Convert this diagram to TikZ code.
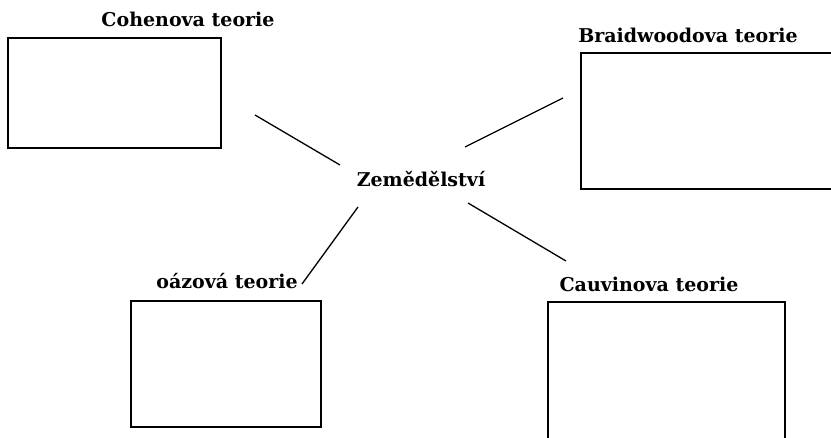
\documentclass[tikz,border=0pt]{standalone}
\usepackage{fontspec}
\setmainfont{DejaVu Serif}
\tikzset{
  mapsec/.style={x=1pt,y=-1pt,font=\bfseries\fontsize{19}{22}\selectfont},
  theorybox/.style={draw,line width=1.8pt,inner sep=0pt,outer sep=0pt},
  theorylabel/.style={anchor=base,inner sep=0pt},
  spoke/.style={line width=1.3pt}
}
\begin{document}
\begin{tikzpicture}[mapsec]
    \useasboundingbox (0,0) rectangle (831,438);
    \clip (0,0) rectangle (831,438);
    % centre
    \node[theorylabel] (zem) at (421,187) {Zemědělství};
    % theory labels
    \node[theorylabel] (cohenLbl) at (188,27)  {Cohenova teorie};
    \node[theorylabel] (braidLbl) at (688,43)  {Braidwoodova teorie};
    \node[theorylabel] (oazaLbl)  at (227,289) {oázová teorie};
    \node[theorylabel] (cauvLbl)  at (649,292) {Cauvinova teorie};
    % empty boxes
    \node[theorybox,minimum width=213,minimum height=110] (cohenBox) at (114.5,93)  {};
    \node[theorybox,minimum width=270,minimum height=136] (braidBox) at (716,121)   {};
    \node[theorybox,minimum width=190,minimum height=126] (oazaBox)  at (226,364)   {};
    \node[theorybox,minimum width=237,minimum height=160] (cauvBox)  at (666.5,382) {};
    % spokes
    \coordinate (s1a) at (255,115); \coordinate (s1b) at (340,165);
    \coordinate (s2a) at (465,147); \coordinate (s2b) at (563,98);
    \coordinate (s3a) at (302,284); \coordinate (s3b) at (358,207);
    \coordinate (s4a) at (468,203); \coordinate (s4b) at (566,261);
    \draw[spoke] (s1a) -- (s1b);
    \draw[spoke] (s2a) -- (s2b);
    \draw[spoke] (s3b) -- (s3a);
    \draw[spoke] (s4a) -- (s4b);
\end{tikzpicture}
\end{document}
